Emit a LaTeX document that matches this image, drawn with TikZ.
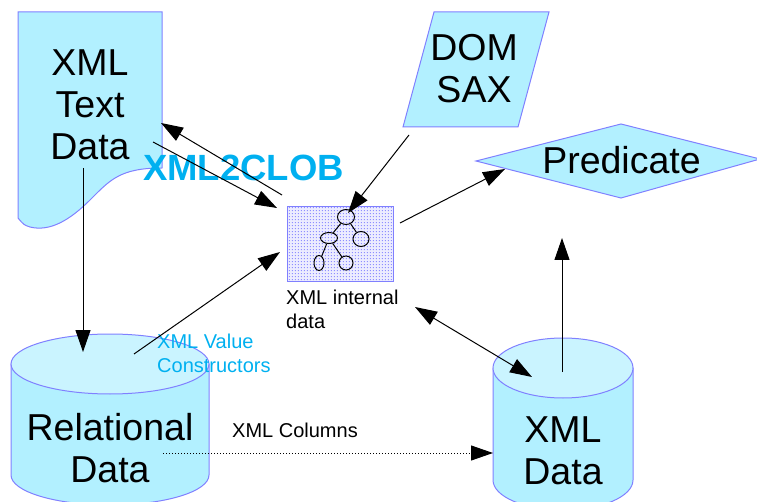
\documentclass[tikz,border=0pt]{standalone}
\usepackage{fontspec}
\setmainfont{Liberation Sans}
\usetikzlibrary{arrows.meta,patterns,shapes.geometric}
\definecolor{shapefill}{RGB}{178,240,255}
\definecolor{capfill}{RGB}{202,244,255}
\definecolor{edgeblue}{RGB}{128,128,255}
\definecolor{labelcyan}{RGB}{0,176,240}
\definecolor{dotblue}{RGB}{110,110,255}
\definecolor{boxback}{RGB}{236,236,255}

% fine dot grid for the internal data box
\pgfdeclarepatternformonly{finedots}{\pgfpointorigin}{\pgfpoint{2.8pt}{2.8pt}}{\pgfpoint{2.8pt}{2.8pt}}{%
  \pgfpathcircle{\pgfpoint{1.4pt}{1.4pt}}{0.6pt}\pgfusepath{fill}}

\begin{document}
\begin{tikzpicture}[x=1pt,y=-1pt,
  shapeline/.style={draw=edgeblue, line width=1pt},
  shapebox/.style={shapeline, fill=shapefill},
  bigtext/.style={font=\fontsize{37.5}{42}\selectfont, align=center, inner sep=0pt},
  smalltext/.style={font=\fontsize{20}{24}\selectfont, align=left, inner sep=0pt},
  treenode/.style={draw, ellipse, line width=1pt, inner sep=0pt},
  conn/.style={-{Triangle[length=22pt,width=15pt]}, line width=1pt},
  twoway/.style={{Triangle[length=22pt,width=15pt]}-{Triangle[length=22pt,width=15pt]}, line width=1pt},
]
\useasboundingbox (0,0) rectangle (757,502);

% XML text document with wavy foot
\path[shapebox] (18,12) -- (162,12) -- (162,168)
  .. controls (120,168) and (110,180) .. (90,200)
  .. controls (70,220) and (50,232) .. (30,227)
  .. controls (24,225) .. (18,218) -- cycle;
\node[bigtext] (doc) at (90,105) {XML\\Text\\Data};

% DOM / SAX parallelogram
\path[shapebox] (434,12) -- (549,12) -- (518,127) -- (403,127) -- cycle;
\node[bigtext] (domsax) at (474,68.5) {DOM\\SAX};

% Predicate diamond
\path[shapebox] (476,161) -- (621,124) -- (760,159) -- (621,198) -- cycle;
\node[bigtext, anchor=base] (pred) at (621.5,174) {Predicate};

% Relational data cylinder
\path[shapebox] (11,364) -- (11,475)
  arc[start angle=180, end angle=0, x radius=99, y radius=30] -- (209,364) -- cycle;
\path[shapeline, fill=capfill] (110,364) ellipse [x radius=99, y radius=30];
\node[bigtext] (rel) at (110,448.5) {Relational\\Data};

% XML data cylinder
\path[shapebox] (493,368) -- (493,480)
  arc[start angle=180, end angle=0, x radius=70, y radius=30] -- (633,368) -- cycle;
\path[shapeline, fill=capfill] (563,368) ellipse [x radius=70, y radius=30];
\node[bigtext] (xmldata) at (563,450.5) {XML\\Data};

% internal tree box
\node[draw=edgeblue, line width=1pt, preaction={fill=boxback}, pattern=finedots, pattern color=dotblue,
      minimum width=106pt, minimum height=75pt, inner sep=0pt] (box) at (340,244.5) {};
\node[treenode, minimum width=17pt, minimum height=15pt] (root) at (346,217) {};
\node[treenode, minimum width=17pt, minimum height=11pt] (lc) at (329,238) {};
\node[treenode, minimum width=16pt, minimum height=15pt] (rc) at (361,239) {};
\node[treenode, minimum width=10pt, minimum height=15pt] (ll) at (319,263) {};
\node[treenode, minimum width=14pt, minimum height=14pt] (lr) at (346,263) {};
\draw[line width=1pt] (root) -- (lc);
\draw[line width=1pt] (root) -- (rc);
\draw[line width=1pt] (lc) -- (ll);
\draw[line width=1pt] (lc) -- (lr);
\node[smalltext, anchor=north west] (boxlabel) at (286,290) {XML internal\\data};

% labels
\node[font=\fontsize{36.5}{40}\selectfont\bfseries, text=labelcyan, inner sep=0pt, anchor=base west]
  (clob) at (143,181) {XML2CLOB};
\node[smalltext, text=labelcyan, anchor=north west] (ctor) at (157,334) {XML Value\\Constructors};
\node[smalltext, anchor=base west] (cols) at (232,437) {XML Columns};

% connector end points
\coordinate (docfoot) at (83,168);
\coordinate (reltop) at (83,352);
\coordinate (docin) at (161,123);
\coordinate (boxout) at (282,195);
\coordinate (docout) at (153,142);
\coordinate (boxin) at (277,208);
\coordinate (ctorstart) at (134,354);
\coordinate (boxleft) at (280,252);
\coordinate (domfoot) at (409,135);
\coordinate (rootin) at (348,213);
\coordinate (boxright) at (400,223);
\coordinate (predin) at (505,169);
\coordinate (boxlow) at (415,307);
\coordinate (xmltop) at (532,377);
\coordinate (xmlup) at (562,372);
\coordinate (predfoot) at (562,238);
\coordinate (relside) at (163,453);
\coordinate (xmlside) at (493,453);

% connectors
\draw[conn] (docfoot) -- (reltop);
\draw[conn] (boxout) -- (docin);
\draw[conn] (docout) -- (boxin);
\draw[conn] (ctorstart) -- (boxleft);
\draw[conn] (domfoot) -- (rootin);
\draw[conn] (boxright) -- (predin);
\draw[twoway] (boxlow) -- (xmltop);
\draw[conn] (xmlup) -- (predfoot);
\draw[conn, dotted] (relside) -- (xmlside);
\end{tikzpicture}
\end{document}
